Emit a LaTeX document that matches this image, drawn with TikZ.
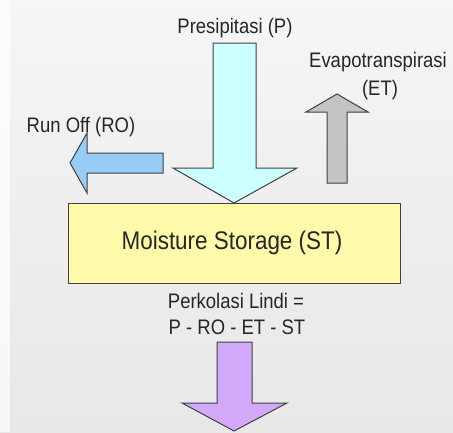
\documentclass[tikz,border=0pt]{standalone}
\usepackage{fontspec}
\setmainfont{Liberation Sans}
\newfontfamily\lblfont[FakeStretch=0.88]{Liberation Sans}
\definecolor{txt}{HTML}{262626}
\definecolor{edge}{HTML}{404040}
\definecolor{precip}{HTML}{CCFFFF}
\definecolor{runoff}{HTML}{99CCF5}
\definecolor{evap}{HTML}{C4C4C4}
\definecolor{perc}{HTML}{D2A8FA}
\definecolor{store}{HTML}{FFFAAA}
\definecolor{bgtop}{HTML}{F6F6F6}
\definecolor{bgmid}{HTML}{EEEEEE}
\definecolor{bgbot}{HTML}{E8E8E8}
\begin{document}
\begin{tikzpicture}[x=1pt,y=-1pt,
  lbl/.style={text=txt,font=\lblfont\fontsize{21}{25}\selectfont,inner sep=0pt,anchor=base},
  arrowshape/.style={draw=edge,line width=1pt,line join=miter},
  storebox/.style={draw=edge,line width=1.4pt,fill=store}]
\useasboundingbox (0,0) rectangle (453,432);
% background
\shade[top color=bgtop,bottom color=bgmid] (0,0) rectangle (453,216);
\shade[top color=bgmid,bottom color=bgbot] (0,216) rectangle (453,432);
\fill[white,opacity=0.7] (0,0) rectangle (10,432);
% precipitation arrow (down)
\draw[arrowshape,fill=precip] (213,43) -- (256,43) -- (256,168) -- (297,168) -- (234,203) -- (173,168) -- (213,168) -- cycle;
% run off arrow (left)
\draw[arrowshape,fill=runoff] (163,153) -- (87,153) -- (87,133) -- (70,163) -- (87,193) -- (87,173) -- (163,173) -- cycle;
% evapotranspiration arrow (up)
\draw[arrowshape,fill=evap] (327,183) -- (327,112) -- (306,112) -- (337,94) -- (368,112) -- (347,112) -- (347,183) -- cycle;
% percolation arrow (down)
\draw[arrowshape,fill=perc] (217,342) -- (252,342) -- (252,403) -- (287,403) -- (234,431) -- (182,403) -- (217,403) -- cycle;
% storage box
\node[storebox,minimum width=332pt,minimum height=80pt,anchor=north west,inner sep=0pt] (st) at (68,203) {};
\node[lbl,font=\lblfont\fontsize{25.5}{30}\selectfont] (sttxt) at (232,249) {Moisture Storage (ST)};
% labels
\node[lbl] (p) at (235,33) {Presipitasi (P)};
\node[lbl] (ro) at (81,132) {Run Off (RO)};
\node[lbl] (et1) at (378,67) {Evapotranspirasi};
\node[lbl] (et2) at (380,95) {(ET)};
\node[lbl] (pl1) at (236,308) {Perkolasi Lindi =};
\node[lbl] (pl2) at (237,334) {P - RO - ET - ST};
\end{tikzpicture}
\end{document}
